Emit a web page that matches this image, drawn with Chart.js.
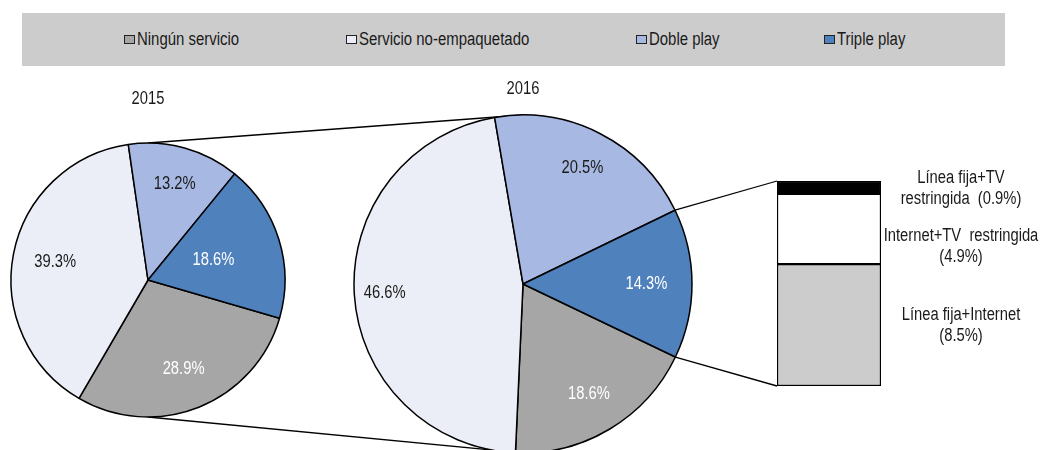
<!DOCTYPE html>
<html>
<head>
<meta charset="utf-8">
<script src="https://cdn.jsdelivr.net/npm/chart.js@4.4.0/dist/chart.umd.min.js"></script>
<style>
  body { margin: 0; background: #fff; }
  #wrap { position: relative; width: 1042px; height: 450px; overflow: hidden; }
  #wrap canvas { position: absolute; left: 0; top: 0; }
  #legend {
    position: absolute; left: 22px; top: 13px; width: 983px; height: 53px;
    background: #cccccc; z-index: 5;
    font-family: 'Liberation Sans Narrow', 'Arial Narrow', 'Liberation Sans', Arial, sans-serif;
    font-size: 18px; color: #1a1a1a;
  }
  .item { position: absolute; top: 0; height: 53px; display: flex; align-items: center; white-space: nowrap; }
  .key { width: 9px; height: 7px; border: 1px solid #222; margin-right: 2px; flex: none; }
  .txt { display: inline-block; transform: scaleX(0.83); transform-origin: left center; }
</style>
</head>
<body>
<div id="wrap">
  <canvas id="pie2015" width="1042" height="450"></canvas>
  <canvas id="pie2016" width="1042" height="450"></canvas>
  <canvas id="bundle" width="1042" height="450"></canvas>
  <div id="legend"></div>
</div>
<script>
const FONT = "'Liberation Sans Narrow', 'Arial Narrow', 'Liberation Sans', Arial, sans-serif";
const SX = 0.82; // narrow look: Arial metrics squeezed

// data
const categories = ['Ningún servicio', 'Servicio no-empaquetado', 'Doble play', 'Triple play'];
const years = ['2015', '2016'];
const values2015 = [28.9, 39.3, 13.2, 18.6];
const values2016 = [18.6, 46.6, 20.5, 14.3];
const tripleNames = [['Línea fija+Internet'], ['Internet+TV  restringida'], ['Línea fija+TV', 'restringida']];
const tripleValues = [8.5, 4.9, 0.9];

const sliceColors = ['#a6a6a6', '#ebeef7', '#a7b9e2', '#4f81bd'];
const labelColors = ['#ffffff', '#1a1a1a', '#1a1a1a', '#ffffff'];
const tripleColors = ['#cccccc', '#ffffff', '#000000'];
const legendLeft = [102, 324, 614, 802];

Chart.defaults.font.family = FONT;
Chart.defaults.font.size = 18;
Chart.defaults.color = '#1a1a1a';

// legend
const legend = document.getElementById('legend');
categories.forEach((c, i) => {
  const it = document.createElement('div');
  it.className = 'item';
  it.style.left = legendLeft[i] + 'px';
  it.innerHTML = `<span class="key" style="background:${sliceColors[i]}"></span><span class="txt">${c}</span>`;
  legend.appendChild(it);
});

function narrowText(ctx, t, x, y) {
  ctx.save();
  ctx.translate(x, y);
  ctx.scale(SX, 1);
  ctx.fillText(t, 0, 0);
  ctx.restore();
}

const sliceLabels = {
  id: 'sliceLabels',
  afterDatasetsDraw(chart, args, opts) {
    const ctx = chart.ctx;
    const vals = chart.data.datasets[0].data;
    const meta = chart.getDatasetMeta(0);
    ctx.save();
    ctx.font = '18px ' + FONT;
    ctx.textAlign = 'center';
    ctx.textBaseline = 'middle';
    meta.data.forEach((arc, i) => {
      const mid = (arc.startAngle + arc.endAngle) / 2;
      const r = arc.outerRadius * opts.radii[i];
      ctx.fillStyle = labelColors[i];
      narrowText(ctx, vals[i].toFixed(1) + '%', arc.x + Math.cos(mid) * r, arc.y + Math.sin(mid) * r);
    });
    const a = meta.data[0];
    ctx.fillStyle = '#1a1a1a';
    narrowText(ctx, opts.title, a.x, a.y - a.outerRadius - opts.titleGap);
    ctx.restore();
  }
};

function pieConfig(year, values, rotation, padding, radius, titleGap, radii) {
  return {
    type: 'pie',
    data: {
      labels: categories,
      datasets: [{
        data: values,
        backgroundColor: sliceColors,
        borderColor: '#000',
        borderWidth: 1.5
      }]
    },
    options: {
      responsive: false,
      animation: false,
      events: [],
      rotation: rotation,
      radius: radius,
      layout: { padding: padding },
      plugins: {
        legend: { display: false },
        tooltip: { enabled: false },
        sliceLabels: { radii: radii, title: year, titleGap: titleGap }
      }
    },
    plugins: [sliceLabels]
  };
}

// 2016 pie
const pieB = new Chart(document.getElementById('pie2016'),
  pieConfig(years[1], values2016, 115.6, { left: 353, right: 349, top: 118, bottom: 0 }, 169, 26, [0.76, 0.82, 0.77, 0.73]));

// stacked bar breaking down triple play 2016
const barLabels = {
  id: 'barLabels',
  afterDatasetsDraw(chart, args, opts) {
    const ctx = chart.ctx;
    ctx.save();
    ctx.font = '18px ' + FONT;
    ctx.fillStyle = '#1a1a1a';
    ctx.textAlign = 'center';
    ctx.textBaseline = 'middle';
    tripleNames.forEach((name, i) => {
      const el = chart.getDatasetMeta(i).data[0];
      const lines = name.slice();
      const pct = '(' + tripleValues[i].toFixed(1) + '%)';
      if (lines.length > 1) lines[lines.length - 1] += '  ' + pct; else lines.push(pct);
      const cx = el.x + el.width / 2 + 80;
      const cy = (el.y + el.base) / 2 + opts.offsets[i];
      const lh = 21;
      lines.forEach((t, k) => narrowText(ctx, t, cx, cy + (k - (lines.length - 1) / 2) * lh));
    });
    ctx.restore();
  }
};

const tripleTotal = tripleValues.reduce((a, b) => a + b, 0);
const barChart = new Chart(document.getElementById('bundle'), {
  type: 'bar',
  data: {
    labels: ['Triple play'],
    datasets: tripleNames.map((n, i) => ({
      label: n.join(' '),
      data: [tripleValues[i]],
      backgroundColor: tripleColors[i],
      borderColor: '#000',
      borderWidth: 1.5,
      borderSkipped: false,
      barPercentage: 1,
      categoryPercentage: 1
    }))
  },
  options: {
    responsive: false,
    animation: false,
    events: [],
    layout: { padding: { left: 777, right: 161, top: 181, bottom: 64 } },
    scales: {
      x: { stacked: true, display: false },
      y: { stacked: true, display: false, min: 0, max: tripleTotal }
    },
    plugins: {
      legend: { display: false },
      tooltip: { enabled: false },
      barLabels: { offsets: [0, 18, 1] }
    }
  },
  plugins: [barLabels]
});

// connecting lines, drawn under the pies
const connectors = {
  id: 'connectors',
  beforeDatasetsDraw(chart) {
    const ctx = chart.ctx;
    const a = chart.getDatasetMeta(0).data[0];
    const b = pieB.getDatasetMeta(0).data[0];
    const tri = pieB.getDatasetMeta(0).data[3];
    const R = tri.outerRadius;
    const topSeg = barChart.getDatasetMeta(2).data[0];
    const botSeg = barChart.getDatasetMeta(0).data[0];
    const barLeft = topSeg.x - topSeg.width / 2;
    const segs = [
      [a.x, a.y - a.outerRadius, b.x, b.y - b.outerRadius],
      [a.x, a.y + a.outerRadius, b.x, b.y + b.outerRadius],
      [b.x + Math.cos(tri.startAngle) * R, b.y + Math.sin(tri.startAngle) * R, barLeft, topSeg.y],
      [b.x + Math.cos(tri.endAngle) * R, b.y + Math.sin(tri.endAngle) * R, barLeft, botSeg.base]
    ];
    ctx.save();
    ctx.strokeStyle = '#000';
    ctx.lineWidth = 1.3;
    segs.forEach(s => {
      ctx.beginPath();
      ctx.moveTo(s[0], s[1]);
      ctx.lineTo(s[2], s[3]);
      ctx.stroke();
    });
    ctx.restore();
  }
};

// 2015 pie (bottom layer)
const cfgA = pieConfig(years[0], values2015, 106.2, { left: 10, right: 756, top: 142, bottom: 32 }, 137, 44, [0.7, 0.69, 0.73, 0.5]);
cfgA.plugins.push(connectors);
const pieA = new Chart(document.getElementById('pie2015'), cfgA);
</script>
</body>
</html>
